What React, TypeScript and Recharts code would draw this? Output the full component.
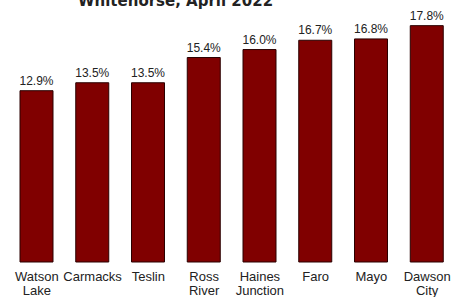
import React from 'react';
import { BarChart, Bar, XAxis, YAxis, LabelList } from 'recharts';

const communities = ['Watson Lake', 'Carmacks', 'Teslin', 'Ross River', 'Haines Junction', 'Faro', 'Mayo', 'Dawson City'];
const shares = [12.9, 13.5, 13.5, 15.4, 16.0, 16.7, 16.8, 17.8];

const data = communities.map((name, i) => ({ name, value: shares[i] }));

const FONT = 'Liberation Sans, Arial, sans-serif';

const WrapTick = (props: any) => {
  const { x, y, payload } = props;
  const words: string[] = String(payload.value).split(' ');
  return (
    <text x={x} y={y} textAnchor="middle" fill="#222" style={{ fontFamily: FONT, fontSize: 13 }}>
      {words.map((w, i) => (
        <tspan key={i} x={x} dy={i === 0 ? 11 : 14}>{w}</tspan>
      ))}
    </text>
  );
};

export default function App() {
  return (
    <div style={{ position: 'absolute', left: 0, top: 0, width: 457, height: 297, background: '#fff', overflow: 'hidden' }}>
      <div style={{
        position: 'absolute', left: 78, top: -8, fontFamily: 'DejaVu Sans, sans-serif',
        fontWeight: 700, fontSize: 15, lineHeight: '18px', color: '#222', whiteSpace: 'nowrap'
      }}>Whitehorse, April 2022</div>
      <BarChart width={457} height={297} data={data} margin={{ top: 23, right: 2, bottom: 0, left: 9 }}>
        <XAxis dataKey="name" axisLine={false} tickLine={false} tick={<WrapTick />} interval={0} height={35} />
        <YAxis hide domain={[0, 18]} />
        <Bar dataKey="value" fill="#800000" stroke="#2a0000" strokeWidth={1} barSize={33} isAnimationActive={false}>
          <LabelList dataKey="value" position="top" offset={6}
            formatter={(v: any) => `${Number(v).toFixed(1)}%`}
            style={{ fontFamily: FONT, fontSize: 12, fill: '#222' }} />
        </Bar>
      </BarChart>
    </div>
  );
}
